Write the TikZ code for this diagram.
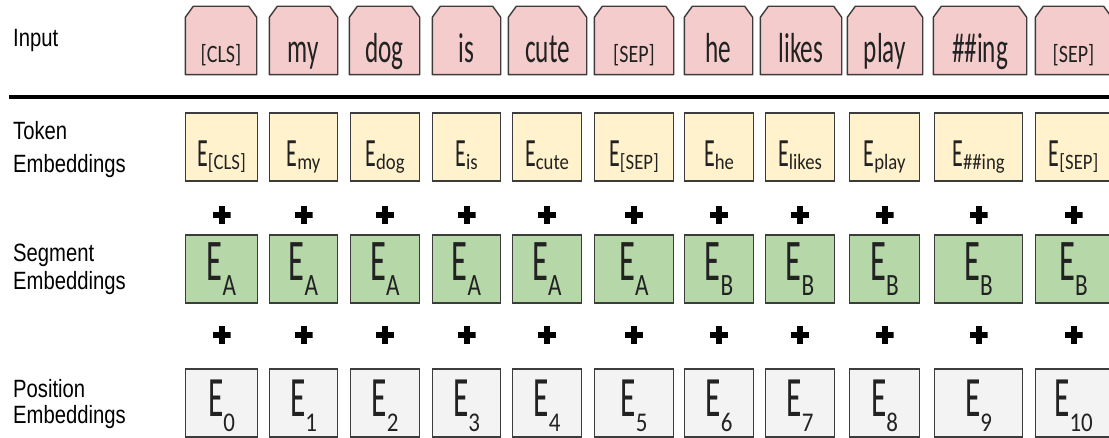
\documentclass[tikz,border=0pt]{standalone}
\usepackage{fontspec}
\usepackage{graphicx}
\usetikzlibrary{backgrounds}
\newfontfamily\boxfont{Carlito}
\newfontfamily\labfont{Liberation Sans}
\definecolor{inpink}{HTML}{F4CCCC}
\definecolor{tokyel}{HTML}{FFF2CC}
\definecolor{seggrn}{HTML}{B6D7A8}
\definecolor{posgry}{HTML}{F3F3F3}
\definecolor{edgec}{HTML}{3C3C3C}
\definecolor{txtc}{HTML}{222222}
% input word
\newcommand\wrd[1]{\scalebox{0.6}[1]{\fontsize{42}{42}\selectfont #1}}
\newcommand\wrdsm[1]{\scalebox{0.8}[1]{\fontsize{25}{25}\selectfont #1}}
% embedding: E size, subscript, sub size, drop, sub hscale
\newcommand\emb[5]{\scalebox{0.55}[1]{\fontsize{#1}{#1}\selectfont E}\raisebox{-#4}{\scalebox{#5}[1]{\fontsize{#3}{#3}\selectfont #2}}}
\newcommand\tokE[1]{\emb{40}{#1}{22}{3pt}{0.85}}
\newcommand\segE[1]{\emb{59}{#1}{31}{15pt}{0.75}}
\newcommand\posE[1]{\emb{57}{#1}{27}{15pt}{0.85}}
\newcommand\labtxt[1]{\scalebox{0.81}[1]{\fontsize{25}{25}\selectfont #1}}
\tikzset{
  basebox/.style={draw=edgec, line width=1.4pt, inner sep=0pt, minimum height=68pt,
    font=\boxfont, text=txtc, text depth=0pt},
  inbox/.style={inner sep=0pt, minimum height=68pt, font=\boxfont, text=txtc,
    text depth=0pt, text height=45pt},
  inoutline/.style={draw=edgec, line width=1.4pt, fill=inpink, line join=round},
  tokbox/.style={basebox, fill=tokyel, text height=40pt},
  segbox/.style={basebox, fill=seggrn, text height=24pt},
  posbox/.style={basebox, fill=posgry, text height=28pt},
  plussign/.style={minimum size=18pt, inner sep=0pt,
    path picture={
      \fill[black] ([xshift=-9pt,yshift=-3pt]path picture bounding box.center) rectangle ([xshift=9pt,yshift=3pt]path picture bounding box.center);
      \fill[black] ([xshift=-3pt,yshift=-9pt]path picture bounding box.center) rectangle ([xshift=3pt,yshift=9pt]path picture bounding box.center);
    }},
  rowlabel/.style={anchor=base west, inner sep=0pt, font=\labfont, text=black}
}
% #1 index, #2 centre x, #3 width, #4 input centre x, #5 input width,
% #6 input text, #7 token sub, #8 segment sub, #9 position sub
\newcommand\embcolumn[9]{%
  \node[inbox, minimum width=#5pt] (in#1) at (#4,40.5) {#6};
  \begin{pgfonlayer}{background}
    \draw[inoutline] (in#1.south west) -- ([yshift=-11pt]in#1.north west)
      -- ([xshift=8pt]in#1.north west) -- ([xshift=-8pt]in#1.north east)
      -- ([yshift=-11pt]in#1.north east) -- (in#1.south east) -- cycle;
  \end{pgfonlayer}
  \node[tokbox, minimum width=#3pt] (tok#1) at (#2,147) {\tokE{#7}};
  \node[plussign] (pa#1) at (#2,215) {};
  \node[segbox, minimum width=#3pt] (seg#1) at (#2,269) {\segE{#8}};
  \node[plussign] (pb#1) at (#2,335) {};
  \node[posbox, minimum width=#3pt] (pos#1) at (#2,403) {\posE{#9}};
}
\begin{document}
\begin{tikzpicture}[x=1pt, y=-1pt]
  \useasboundingbox (0,0) rectangle (1109,438);
  \begin{pgfonlayer}{background}
    \fill[white] (0,0) rectangle (1109,438);
  \end{pgfonlayer}
  % row labels
  \node[rowlabel] (labin) at (13,47) {\labtxt{Input}};
  \node[rowlabel] (labtokA) at (13,140) {\labtxt{Token}};
  \node[rowlabel] (labtokB) at (13,173) {\labtxt{Embeddings}};
  \node[rowlabel] (labsegA) at (13,262) {\labtxt{Segment}};
  \node[rowlabel] (labsegB) at (13,290) {\labtxt{Embeddings}};
  \node[rowlabel] (labposA) at (13,397) {\labtxt{Position}};
  \node[rowlabel] (labposB) at (13,424) {\labtxt{Embeddings}};
  % separator rule
  \coordinate (ruleL) at (9,97);
  \coordinate (ruleR) at (1115,97);
  \draw[line width=4pt, black] (ruleL) -- (ruleR);
  % columns
  \embcolumn{0}{221.5}{72}{221}{71}{\wrdsm{[CLS]}}{[CLS]}{A}{0}
  \embcolumn{1}{303.5}{68}{303.5}{68}{\wrd{my}}{my}{A}{1}
  \embcolumn{2}{385}{69}{384.5}{70}{\wrd{dog}}{dog}{A}{2}
  \embcolumn{3}{466.5}{68}{466.5}{68}{\wrd{is}}{is}{A}{3}
  \embcolumn{4}{547}{69}{547.5}{78}{\wrd{cute}}{cute}{A}{4}
  \embcolumn{5}{634}{79}{634}{79}{\wrdsm{[SEP]}}{[SEP]}{A}{5}
  \embcolumn{6}{719}{69}{718.5}{68}{\wrd{he}}{he}{B}{6}
  \embcolumn{7}{800}{69}{801}{81}{\wrd{likes}}{likes}{B}{7}
  \embcolumn{8}{884.5}{70}{885}{75}{\wrd{play}}{play}{B}{8}
  \embcolumn{9}{978.5}{88}{980}{93}{\wrd{\#\#ing}}{\#\#ing}{B}{9}
  \embcolumn{10}{1073.5}{76}{1073.5}{76}{\wrdsm{[SEP]}}{[SEP]}{B}{10}
\end{tikzpicture}
\end{document}
